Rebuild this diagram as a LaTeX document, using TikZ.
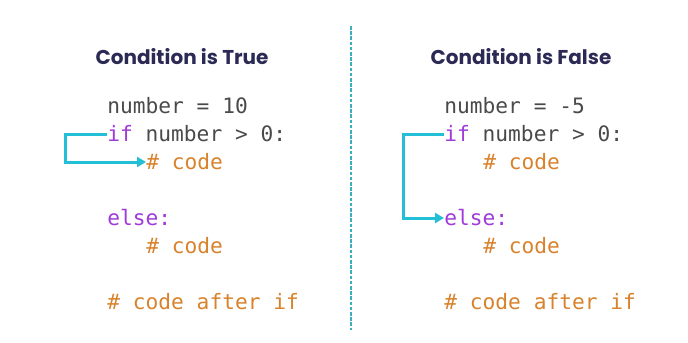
\documentclass[tikz,border=0pt]{standalone}
\usepackage{fontspec}
\setmonofont{DejaVu Sans Mono}
\newfontfamily\headfont{Poppins}
\usetikzlibrary{arrows.meta}

\definecolor{navy}{HTML}{2B2A55}
\definecolor{kwpurple}{HTML}{A03BD8}
\definecolor{cmtorange}{HTML}{D8822C}
\definecolor{codegray}{HTML}{4A4A4A}
\definecolor{flowcyan}{HTML}{22BFD6}
\definecolor{rulecyan}{HTML}{3AAFBE}

\tikzset{
  head/.style={font=\headfont\bfseries\fontsize{10}{12}\selectfont, text=navy},
  code/.style={anchor=west, inner sep=0pt, font=\ttfamily\fontsize{10.6}{12}\selectfont, text=codegray},
  kw/.style={code, text=kwpurple},
  cmt/.style={code, text=cmtorange},
  jump/.style={draw=flowcyan, line width=1.5pt, -{Triangle[length=4.5pt,width=5pt]}},
}

\begin{document}
\begin{tikzpicture}[x=0.5pt,y=-0.5pt]
    \useasboundingbox (0,0) rectangle (688,342);

    % divider between the two cases
    \coordinate (top) at (351,26);
    \coordinate (bot) at (351,330);
    \draw[rulecyan, line width=1.1pt, dash pattern=on 1.8pt off 0.8pt](top)--(bot);

    % condition is true
    \node[head] (headT) at (182,57) {Condition is True};
    \node[code] (numT) at (107,106) {number = 10};
    \node[code] (ifT) at (107,134) {\textcolor{kwpurple}{if} number > 0:};
    \node[cmt] (codeT) at (146,162) {\# code};
    \node[kw] (elseT) at (107,218) {else:};
    \node[cmt] (code2T) at (146,246) {\# code};
    \node[cmt] (afterT) at (107,302) {\# code after if};

    \coordinate (bendT) at (65,134);
    \draw[jump](ifT.west)--(bendT)|-(codeT.west);

    % condition is false
    \node[head] (headF) at (521,57) {Condition is False};
    \node[code] (numF) at (444,106) {number = -5};
    \node[code] (ifF) at (444,134) {\textcolor{kwpurple}{if} number > 0:};
    \node[cmt] (codeF) at (483,162) {\# code};
    \node[kw] (elseF) at (444,218) {else:};
    \node[cmt] (code2F) at (483,246) {\# code};
    \node[cmt] (afterF) at (444,302) {\# code after if};

    \coordinate (bendF) at (403,134);
    \draw[jump](ifF.west)--(bendF)|-(elseF.west);
\end{tikzpicture}
\end{document}
